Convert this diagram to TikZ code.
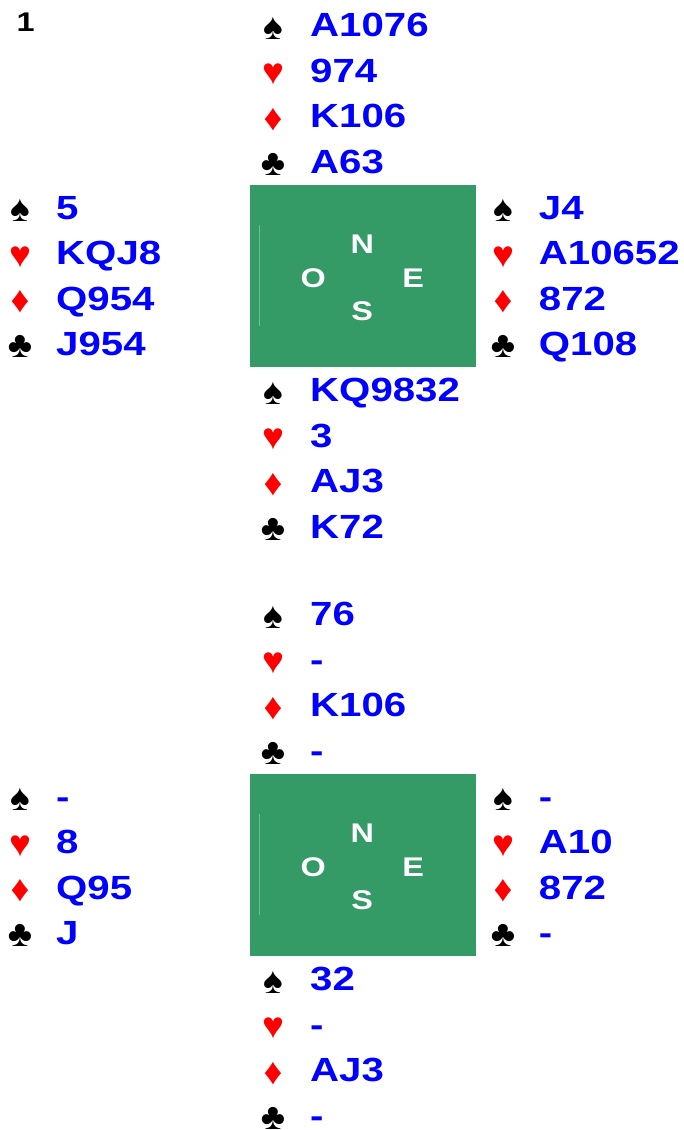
\documentclass[tikz,border=0pt]{standalone}
\usepackage{fontspec}
\setmainfont{Liberation Sans}
\newfontfamily\cardfont{Liberation Sans}[FakeStretch=1.2]
\newfontfamily\suitfont{Liberation Sans}
\definecolor{cardblue}{RGB}{0,0,255}
\definecolor{suitred}{RGB}{255,0,0}
\definecolor{tablegreen}{RGB}{52,154,102}
\definecolor{tableline}{RGB}{110,190,150}
\tikzset{
  cards/.style={anchor=base west, inner sep=0pt, text depth=0pt, text=cardblue,
    font=\cardfont\bfseries\fontsize{33.5}{40}\selectfont},
  suitblack/.style={anchor=base, inner sep=0pt, text depth=0pt, text=black,
    font=\suitfont\fontsize{37}{42}\selectfont},
  suitred/.style={anchor=base, inner sep=0pt, text depth=0pt, text=suitred,
    font=\suitfont\fontsize{37}{42}\selectfont},
  compass/.style={anchor=base, inner sep=0pt, text=white,
    font=\cardfont\bfseries\fontsize{27}{30}\selectfont},
  tablebox/.style={fill=tablegreen, draw=none},
  boardno/.style={anchor=base west, inner sep=0pt, text=black,
    font=\cardfont\bfseries\fontsize{27}{32}\selectfont}
}
% id, suit x, text x, first baseline, spades, hearts, diamonds, clubs
\newcommand\bridgehand[8]{%
  \node[suitblack] (#1S) at (#2,{#4+2.5}) {♠};
  \node[cards] (#1St) at (#3,#4) {#5};
  \node[suitred] (#1H) at (#2,{#4+45.6+2.5}) {♥};
  \node[cards] (#1Ht) at (#3,{#4+45.6}) {#6};
  \node[suitred] (#1D) at (#2,{#4+91.2+2.5}) {♦};
  \node[cards] (#1Dt) at (#3,{#4+91.2}) {#7};
  \node[suitblack] (#1C) at (#2,{#4+136.8+2}) {♣};
  \node[cards] (#1Ct) at (#3,{#4+136.8}) {#8};
}
% id, y offset
\newcommand\bridgetable[2]{%
  \path[tablebox] (249.5,{185+#2}) rectangle (475.5,{367+#2});
  \coordinate (#1la) at (259,{225+#2});
  \coordinate (#1lb) at (259,{326+#2});
  \draw[tableline, line width=0.8pt] (#1la) -- (#1lb);
  \node[compass] (#1N) at (362.3,{253.3+#2}) {N};
  \node[compass] (#1O) at (313.3,{287+#2}) {O};
  \node[compass] (#1E) at (413.3,{287+#2}) {E};
  \node[compass] (#1Ss) at (362.3,{320+#2}) {S};
}
\begin{document}
\begin{tikzpicture}[x=1pt,y=-1pt]
\useasboundingbox (0,0) rectangle (683,1130);
\node[boardno] (board) at (16.5,31.5) {1};
% first deal
\bridgetable{ta}{0}
\bridgehand{aN}{273}{310}{36.7}{A1076}{974}{K106}{A63}
\bridgehand{aW}{20}{56}{219.1}{5}{KQJ8}{Q954}{J954}
\bridgehand{aE}{503}{538.7}{219.1}{J4}{A10652}{872}{Q108}
\bridgehand{aS}{273}{310}{401.5}{KQ9832}{3}{AJ3}{K72}
% second position
\bridgetable{tb}{589}
\bridgehand{bN}{273}{310}{625.7}{76}{-}{K106}{-}
\bridgehand{bW}{20}{56}{808.1}{-}{8}{Q95}{J}
\bridgehand{bE}{503}{538.7}{808.1}{-}{A10}{872}{-}
\bridgehand{bS}{273}{310}{990.5}{32}{-}{AJ3}{-}
\end{tikzpicture}
\end{document}
